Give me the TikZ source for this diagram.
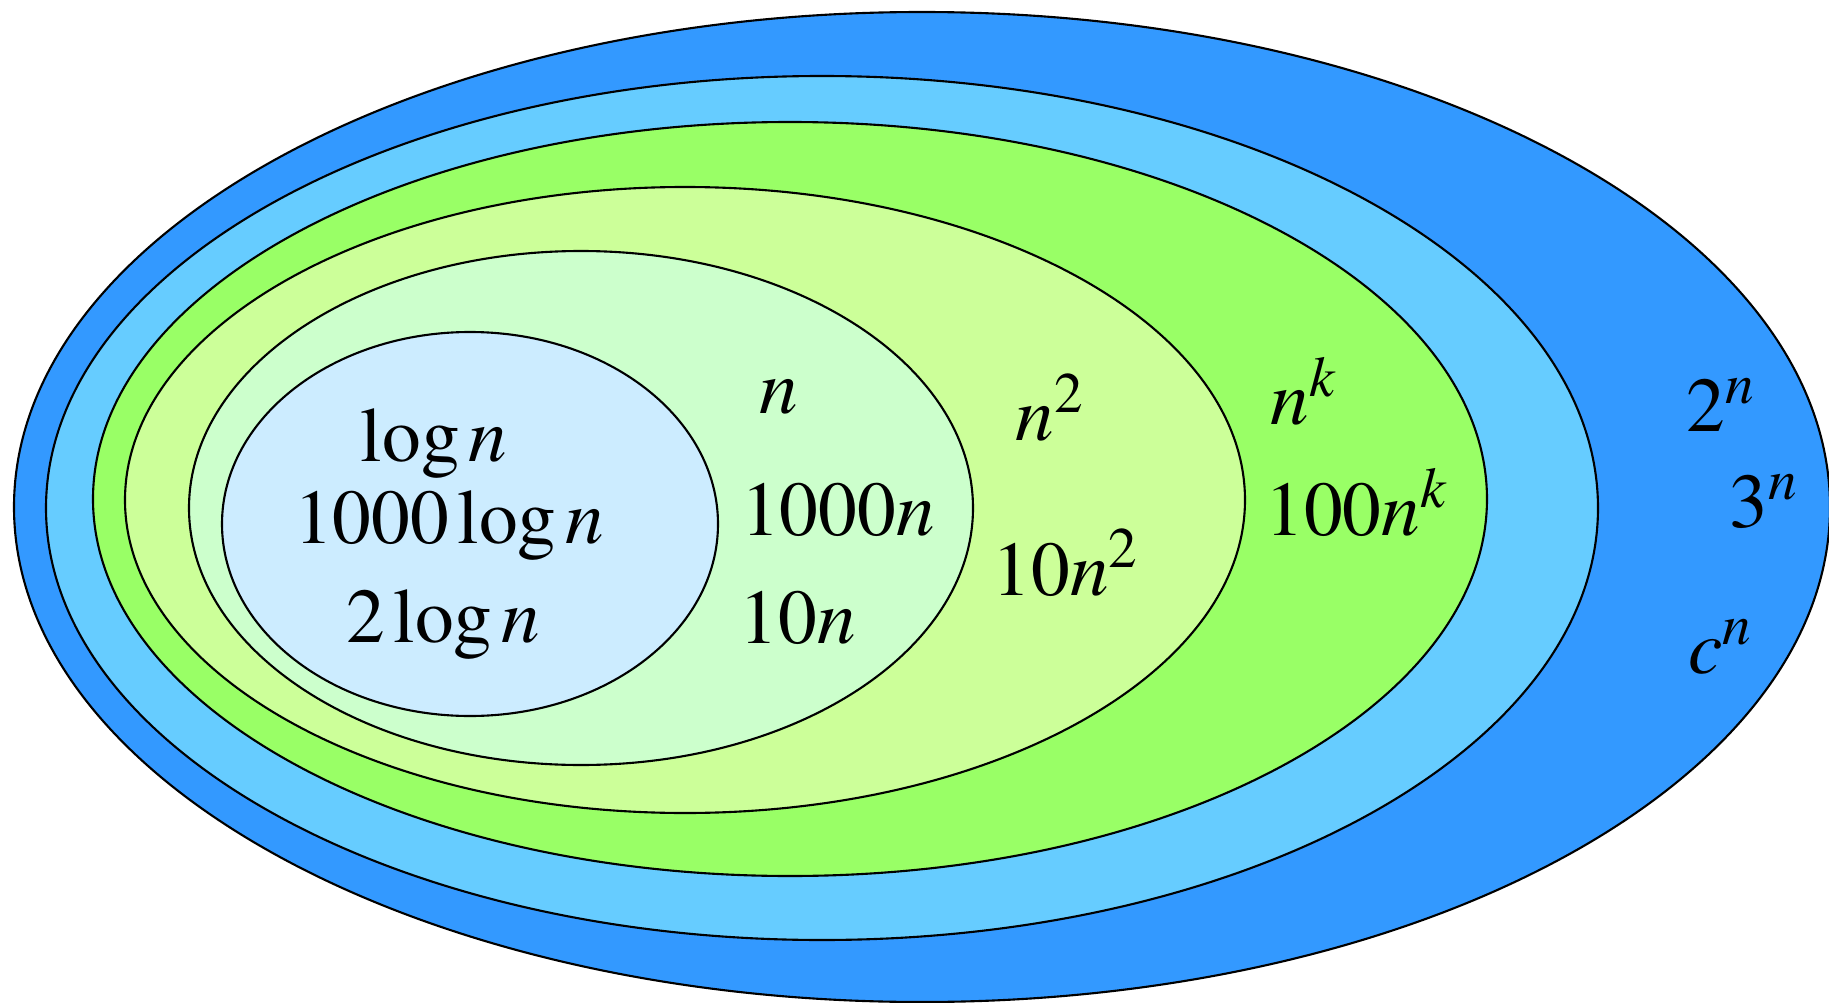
\documentclass[tikz,border=0pt]{standalone}
\usepackage{mathptmx}
\usepackage{tikz}
\usetikzlibrary{positioning}
\definecolor{expblue}{HTML}{3399FF}
\definecolor{polyblue}{HTML}{66CCFF}
\definecolor{polygreen}{HTML}{99FF66}
\definecolor{quadgreen}{HTML}{CCFF99}
\definecolor{linmint}{HTML}{CCFFCC}
\definecolor{logblue}{HTML}{CCECFF}
\tikzstyle{ring} = [draw=black, line width=0.6pt]
\tikzstyle{label} = [inner sep=0pt, font=\fontsize{22}{26}\selectfont]

\begin{document}
\begin{tikzpicture}[x=0.01cm, y=-0.01cm]
\useasboundingbox (0,0) rectangle (1829,1003);

\draw[ring, fill=expblue] (922,507) ellipse (908 and 495);
\draw[ring, fill=polyblue] (822,508) ellipse (776 and 432);
\draw[ring, fill=polygreen] (790,499) ellipse (697 and 377);
\draw[ring, fill=quadgreen] (685,500) ellipse (560 and 313);
\draw[ring, fill=linmint] (581,508) ellipse (392 and 257);
\draw[ring, fill=logblue] (470,524) ellipse (248 and 192);

% logarithmic
\node (logn) [label] at (434,443) {$\log n$};
\node (kilolog) [label] at (449,525) {$1000\log n$};
\node (twolog) [label] at (443,624) {$2\log n$};

% linear
\node (lin) [label] at (779,397) {$n$};
\node (kilolin) [label] at (838,510) {$1000n$};
\node (tenlin) [label] at (798,618) {$10n$};

% quadratic
\node (quad) [label] at (1050,408) {$n^{2}$};
\node (tenquad) [label] at (1066,563) {$10n^{2}$};

% polynomial
\node (poly) [label] at (1304,391) {$n^{k}$};
\node (hundpoly) [label] at (1357,502) {$100n^{k}$};

% exponential
\node (twoexp) [label] at (1721,405) {$2^{n}$};
\node (threeexp) [label] at (1764,502) {$3^{n}$};
\node (cexp) [label] at (1721,647) {$c^{n}$};

\end{tikzpicture}
\end{document}
